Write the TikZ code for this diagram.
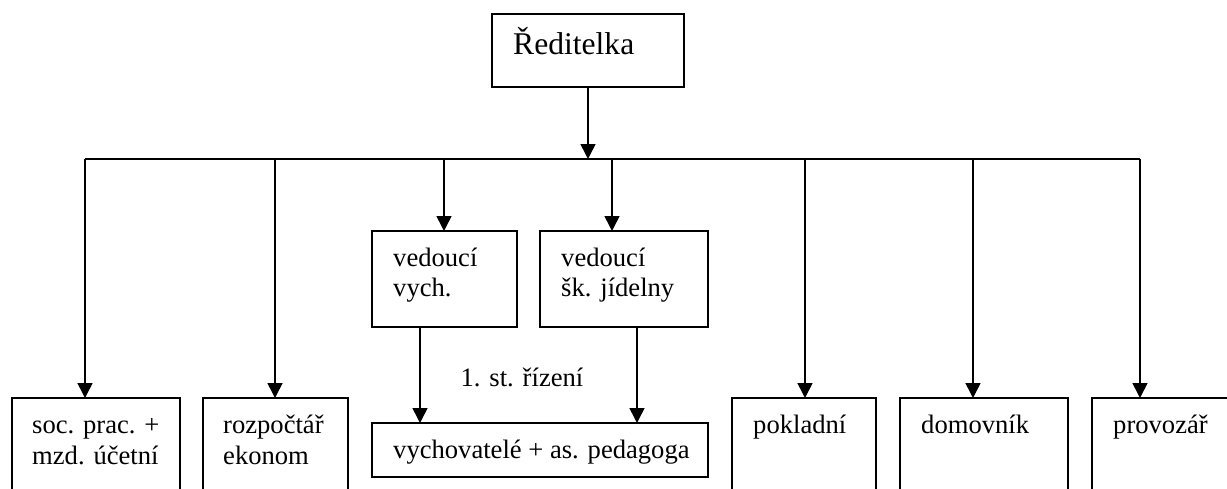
\documentclass[tikz,border=0pt]{standalone}
\usepackage{fontspec}
\setmainfont{Liberation Serif}
\usetikzlibrary{arrows.meta}
\begin{document}
\begin{tikzpicture}[x=1pt,y=-1pt,
  box/.style={draw,line width=1.6pt,anchor=north west,inner sep=0pt,outer sep=0pt},
  txt/.style={anchor=base west,inner sep=0pt,align=left,font=\fontsize{26.6}{30.7}\selectfont},
  bigtxt/.style={anchor=base west,inner sep=0pt,font=\fontsize{31.6}{36}\selectfont},
  conn/.style={line width=1.6pt},
  arr/.style={line width=1.6pt,-{Triangle[length=15pt,width=15pt]}}]
\useasboundingbox (0,0) rectangle (1227,488);
\clip (0,0) rectangle (1227,488);
% boxes
\node[box,minimum width=192pt,minimum height=73pt] (red) at (492,14) {};
\node[box,minimum width=145pt,minimum height=96pt] (vv) at (372,231) {};
\node[box,minimum width=168pt,minimum height=96pt] (vj) at (540,231) {};
\node[box,minimum width=336pt,minimum height=54pt] (vp) at (372,423) {};
\node[box,minimum width=168pt,minimum height=120pt] (soc) at (12,398) {};
\node[box,minimum width=145pt,minimum height=120pt] (roz) at (203,398) {};
\node[box,minimum width=144pt,minimum height=120pt] (pok) at (732,398) {};
\node[box,minimum width=168pt,minimum height=120pt] (dom) at (900,398) {};
\node[box,minimum width=168pt,minimum height=120pt] (pro) at (1092,398) {};
% texts (two-line nodes: base = last line)
\node[bigtxt] (tred) at (513,54) {Ředitelka};
\node[txt] (tvv) at (393,296.7) {vedoucí\\vych.};
\node[txt] (tvj) at (561,296.7) {vedoucí\\šk. jídelny};
\node[txt] (tvp) at (393,458) {vychovatelé + as. pedagoga};
\node[txt] (tsoc) at (32,464) {soc. prac. +\\mzd. účetní};
\node[txt] (troz) at (223,464) {rozpočtář\\ekonom};
\node[txt] (tpok) at (753,433) {pokladní};
\node[txt] (tdom) at (921,433) {domovník};
\node[txt] (tpro) at (1113,433) {provozář};
\node[txt,anchor=base] (lab) at (522,386) {1. st. řízení};
% bus
\coordinate (bl) at (85,159);
\coordinate (br) at (1140,159);
\coordinate (bm) at (588,159);
\draw[conn] (bl) -- (br);
\draw[arr] (red.south -| bm) -- (bm);
\draw[arr] (bl) -- (soc.north -| bl);
\draw[arr] (275,159) -- (roz.north -| 275,0);
\draw[arr] (444,159) -- (vv.north -| 444,0);
\draw[arr] (612,159) -- (vj.north -| 612,0);
\draw[arr] (805,159) -- (pok.north -| 805,0);
\draw[arr] (973,159) -- (dom.north -| 973,0);
\draw[arr] (br) -- (pro.north -| br);
\draw[arr] (vv.south -| 420,0) -- (vp.north -| 420,0);
\draw[arr] (vj.south -| 637,0) -- (vp.north -| 637,0);
\end{tikzpicture}
\end{document}
